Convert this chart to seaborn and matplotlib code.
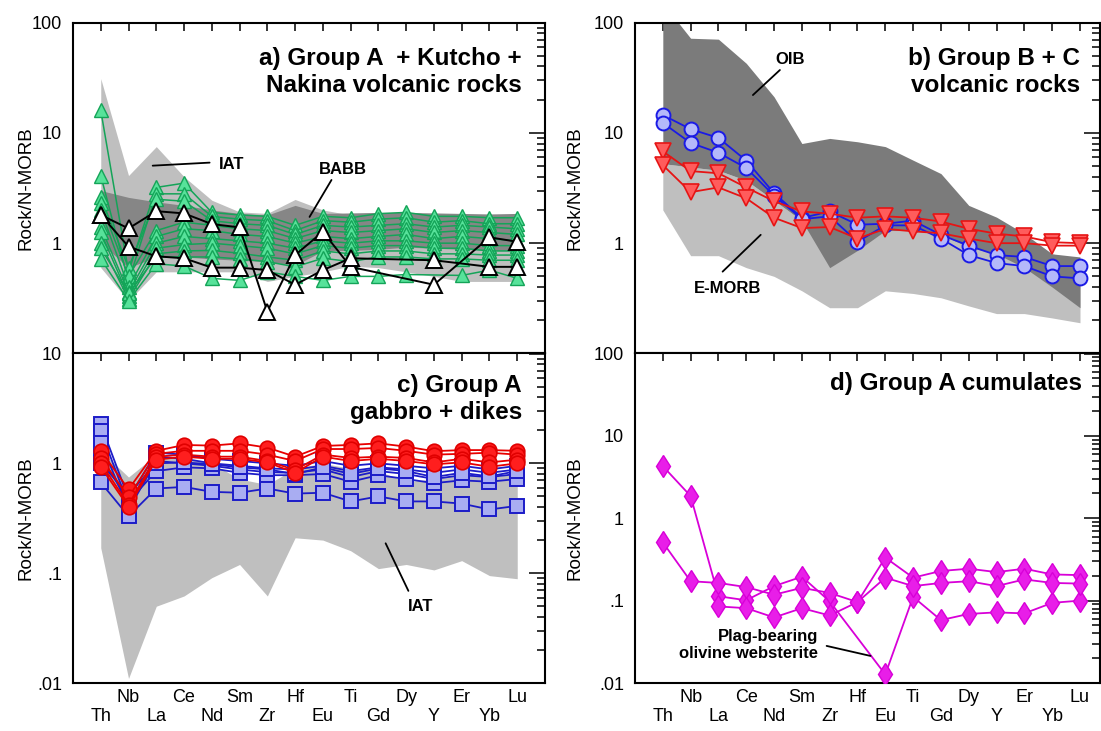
import numpy as np
import pandas as pd
import matplotlib
matplotlib.use("Agg")
import matplotlib.pyplot as plt
from matplotlib.ticker import FixedLocator, FuncFormatter, LogLocator, NullFormatter
import seaborn as sns

nan = np.nan

# ---------------------------------------------------------------- data
elements = ["Th", "Nb", "La", "Ce", "Nd", "Sm", "Zr", "Hf",
            "Eu", "Ti", "Gd", "Dy", "Y", "Er", "Yb", "Lu"]

# a) volcanic rocks (green triangles)
volc_green = [
    [16.0, 0.55, 3.2, 3.5, 1.9, 1.8, 1.75, 1.45, 1.75, 1.7, 1.85, 1.9, 1.75, 1.75, 1.7, 1.7],
    [4.1, 0.45, 2.8, 2.8, 1.75, 1.65, 1.6, 1.3, 1.6, 1.55, 1.65, 1.7, 1.55, 1.6, 1.5, 1.5],
    [2.6, 0.6, 2.5, 2.4, 1.6, 1.5, 1.45, 1.2, 1.45, 1.4, 1.45, 1.5, 1.4, 1.45, 1.4, 1.35],
    [2.3, 0.5, 1.3, 1.55, 1.45, 1.35, 1.3, 1.1, 1.3, 1.25, 1.3, 1.35, 1.25, 1.3, 1.25, 1.2],
    [2.0, 0.4, 1.15, 1.35, 1.3, 1.2, 1.15, 1.0, 1.15, 1.1, 1.15, 1.2, 1.1, 1.15, 1.1, 1.05],
    [1.4, 0.36, 1.0, 1.15, 1.1, 1.05, 1.0, 0.9, 1.05, 1.0, 1.05, 1.05, 1.0, 1.0, 0.95, 0.95],
    [1.25, 0.33, 0.9, 0.97, 1.0, 0.95, 0.9, 0.8, 0.95, 0.9, 0.95, 0.95, 0.9, 0.9, 0.85, 0.85],
    [1.0, 0.31, 0.8, 0.85, 0.86, 0.81, 0.75, 0.7, 0.85, 0.8, 0.85, 0.85, 0.8, 0.8, 0.78, 0.78],
    [0.9, 0.35, 0.75, 0.75, 0.75, 0.72, 0.68, 0.61, 0.73, 0.68, 0.75, 0.75, 0.72, 0.72, 0.7, 0.7],
    [0.72, 0.3, 0.65, 0.62, 0.48, 0.46, 0.55, 0.5, 0.46, 0.5, 0.5, 0.52, nan, 0.51, 0.57, 0.48],
]
# a) volcanic rocks (white triangles)
volc_white = [
    [1.8, 1.36, 1.95, 1.86, 1.49, 1.39, 0.24, 0.78, 1.27, 0.61, nan, nan, 0.42, nan, 1.13, 1.03],
    [1.8, 0.93, 0.76, 0.73, 0.60, 0.60, 0.57, 0.42, 0.57, 0.73, nan, nan, 0.70, nan, 0.61, 0.61],
]
iat_a_low = [0.6, 0.3, 0.55, 0.55, 0.55, 0.55, 0.45, 0.5, 0.55, 0.62, 0.6, 0.55, 0.5, 0.45, 0.45, 0.45]
iat_a_high = [31, 4.1, 7.5, 4.0, 2.45, 1.92, 1.86, 2.49, 2.0, 1.8, 1.8, 1.8, 1.8, 1.75, 1.75, 1.75]
babb_low = [1.0, 0.6, 0.75, 0.75, 0.72, 0.7, 0.68, 0.63, 0.85, 0.86, 0.88, 0.92, 0.9, 0.88, 0.86, 0.86]
babb_high = [3.0, 2.6, 2.37, 2.2, 2.0, 1.86, 1.8, 2.2, 1.86, 1.88, 1.9, 1.9, 1.88, 1.86, 1.84, 1.86]

# b) volcanic rocks
circle_suite = [
    [14.5, 10.8, 9.0, 5.6, 2.84, 1.69, 1.94, 1.47, 1.5, 1.6, 1.19, 0.95, 0.78, 0.75, 0.62, 0.62],
    [12.3, 8.1, 6.6, 4.8, 2.7, 1.65, 1.75, 1.03, 1.45, 1.45, 1.1, 0.78, 0.66, 0.62, 0.5, 0.48],
]
triangle_suite = [
    [6.8, 4.5, 4.3, 3.2, 2.4, 1.94, 1.85, 1.7, 1.75, 1.7, 1.57, 1.35, 1.22, 1.15, 1.02, 1.0],
    [5.1, 2.9, 3.2, 2.55, 1.7, 1.37, 1.4, 1.1, 1.35, 1.28, 1.23, 1.1, 1.0, 1.0, 0.95, 0.95],
]
oib_low = [5.26, 4.9, 4.57, 3.7, 2.44, 1.6, 0.6, 0.86, 1.3, 1.3, 1.2, 0.92, 0.8, 0.6, 0.4, 0.26]
oib_high = [150, 72, 70.6, 42.7, 21.2, 8.0, 8.9, 8.3, 7.5, 5.65, 4.27, 2.2, 1.72, 1.22, 0.8, 0.75]
emorb_low = [2.0, 0.77, 0.77, 0.6, 0.5, 0.37, 0.26, 0.26, 0.37, 0.35, 0.32, 0.27, 0.23, 0.23, 0.21, 0.19]
emorb_high = [5.26, 4.9, 4.57, 3.7, 2.44, 1.6, 1.4, 1.35, 1.3, 1.3, 1.2, 1.1, 1.0, 0.9, 0.8, 0.7]

# c) gabbro + dikes
gabbro = [
    [2.27, 0.48, 1.25, 1.2, 1.1, 1.05, 1.0, 0.95, 1.05, 0.95, 1.0, 0.95, 0.9, 0.95, 0.88, 0.95],
    [1.97, 0.42, 1.15, 1.1, 1.0, 0.95, 0.9, 0.88, 0.95, 0.85, 0.92, 0.88, 0.82, 0.88, 0.82, 0.88],
    [1.54, 0.38, 1.05, 1.0, 0.95, 0.88, 0.83, 0.82, 0.88, 0.75, 0.85, 0.8, 0.72, 0.78, 0.75, 0.8],
    [1.15, 0.45, 0.85, 0.92, 0.9, 0.82, 0.78, 0.78, 0.8, 0.68, 0.78, 0.72, 0.66, 0.7, 0.68, 0.72],
    [1.0, 0.52, 1.0, 1.02, 0.98, 0.92, 0.88, 0.8, 0.92, 0.8, 0.9, 0.85, 0.75, 0.82, 0.76, 0.85],
    [0.67, 0.33, 0.59, 0.61, 0.55, 0.54, 0.59, 0.53, 0.54, 0.45, 0.5, 0.45, 0.45, 0.43, 0.38, 0.41],
]
dikes = [
    [1.3, 0.58, 1.3, 1.47, 1.45, 1.52, 1.39, 1.15, 1.44, 1.47, 1.52, 1.42, 1.29, 1.32, 1.32, 1.3],
    [1.13, 0.49, 1.22, 1.3, 1.3, 1.3, 1.2, 1.05, 1.35, 1.35, 1.38, 1.3, 1.2, 1.22, 1.25, 1.2],
    [1.01, 0.42, 1.15, 1.2, 1.15, 1.15, 1.05, 0.87, 1.2, 1.12, 1.15, 1.12, 1.02, 1.1, 1.02, 1.08],
    [0.93, 0.40, 1.08, 1.15, 1.1, 1.1, 1.02, 0.82, 1.15, 1.05, 1.1, 1.05, 0.98, 1.02, 0.93, 1.0],
]
iat_c_low = [0.17, 0.011, 0.05, 0.062, 0.091, 0.12, 0.062, 0.21, 0.2, 0.16, 0.11, 0.12, 0.107, 0.13, 0.095, 0.089]
iat_c_high = [1.3, 0.75, 1.2, 1.1, 1.0, 0.72, 0.64, 0.9, 1.0, 0.9, 0.85, 0.68, 0.72, 0.8, 0.75, 0.8]

# d) cumulates
cumulates = [
    [4.29, 1.86, 0.113, 0.101, 0.15, 0.195, 0.098, nan, 0.0127, 0.111, 0.058, 0.069, 0.072, 0.07, 0.094, 0.1],
    [0.51, 0.172, 0.164, 0.146, 0.118, 0.143, 0.124, 0.096, 0.333, 0.19, 0.229, 0.244, 0.222, 0.244, 0.208, 0.204],
    [nan, nan, 0.085, 0.081, 0.0625, 0.081, 0.066, 0.096, 0.19, 0.15, 0.164, 0.172, 0.15, 0.181, 0.164, 0.161],
]

# ---------------------------------------------------------------- style
sns.set_style("white")
plt.rcParams["font.family"] = ["Liberation Sans", "DejaVu Sans"]
plt.rcParams["axes.linewidth"] = 1.5
for key in ("text.color", "axes.labelcolor", "xtick.color", "ytick.color", "axes.edgecolor"):
    plt.rcParams[key] = "black"

LIGHT = "#bfbfbf"
DARK = "#868686"
pos = np.arange(len(elements))

W, H = 1101, 731
fig = plt.figure(figsize=(W / 100, H / 100), dpi=100)


def add_axes(left, top, right, bottom):
    return fig.add_axes([left / W, 1 - bottom / H, (right - left) / W, (bottom - top) / H])


ax_a = add_axes(73, 22.5, 545, 353.5)
ax_c = add_axes(73, 353.5, 545, 683)
ax_b = add_axes(635, 22.5, 1099.5, 353.5)
ax_d = add_axes(635, 353.5, 1099.5, 683)


def long_form(series):
    rows = []
    for k, vals in enumerate(series):
        for i, v in enumerate(vals):
            if np.isfinite(v):
                rows.append((k, i, v))
    return pd.DataFrame(rows, columns=["sample", "pos", "value"])


def draw_suite(ax, series, line, marker, ms, face, edge, lw=1.1, mew=1.0, z=3):
    sns.lineplot(data=long_form(series), x="pos", y="value", units="sample",
                 estimator=None, sort=False, ax=ax, color=line, lw=lw,
                 marker=marker, markersize=ms, markerfacecolor=face,
                 markeredgecolor=edge, markeredgewidth=mew, legend=False,
                 zorder=z)


LABELS = {100: "100", 10: "10", 1: "1", 0.1: ".1", 0.01: ".01"}


def style_axis(ax, ylim, shown, xmax, bottom_labels):
    ax.set_yscale("log")
    ax.set_ylim(*ylim)
    ax.set_xlim(-1, xmax)
    majors = [v for v in LABELS if ylim[0] <= v <= ylim[1]]
    ax.yaxis.set_major_locator(FixedLocator(majors))
    ax.yaxis.set_major_formatter(FuncFormatter(
        lambda v, p: next((LABELS[k] for k in shown if abs(v - k) < 1e-9 * k + 1e-12), "")))
    ax.yaxis.set_minor_locator(LogLocator(base=10, subs=np.arange(2, 10), numticks=20))
    ax.yaxis.set_minor_formatter(NullFormatter())
    ax.set_xticks(pos)
    ax.set_xticklabels([("\n" + e) if i % 2 == 0 else e for i, e in enumerate(elements)])
    ax.tick_params(axis="both", which="both", direction="in", top=True, right=True,
                   width=1.1, color="black", labelcolor="black")
    ax.tick_params(axis="y", which="major", length=11.5, pad=8, labelsize=13)
    ax.tick_params(axis="y", which="minor", length=5.8)
    ax.tick_params(axis="x", which="major", length=6, pad=4, labelsize=13,
                   labelbottom=bottom_labels)
    ax.set_xlabel("")
    ax.set_ylabel("Rock/N-MORB", fontsize=13.5, color="black")
    for s in ax.spines.values():
        s.set_linewidth(1.5)
        s.set_color("black")


XMAX_R = (1099.5 - 663) / 27.8
TITLE = dict(ha="right", va="baseline", multialignment="right", fontsize=17.5,
             fontweight="bold", color="black")
NOTE = dict(fontsize=12, fontweight="bold", color="black")

# ---------------------------------------------------------------- a
ax = ax_a
ax.set_yscale("log")
ax.fill_between(pos, iat_a_low, iat_a_high, color=LIGHT, lw=0, zorder=1)
ax.fill_between(pos, babb_low, babb_high, color=DARK, lw=0, zorder=1.5)
draw_suite(ax, volc_green, "#14a458", "^", 9.5, "#57e29a", "#14a458", lw=1.1, z=3)
draw_suite(ax, volc_white, "black", "^", 11, "white", "black", lw=1.4, mew=1.4, z=4)
style_axis(ax, (0.1, 100), [100, 10, 1], 16, False)
ax.yaxis.set_label_coords(-0.082, 0.5)
ax.text(0.951, 0.79, "a) Group A  + Kutcho +\nNakina volcanic rocks",
        transform=ax.transAxes, **TITLE)
ax.text(4.71, 5.17, "IAT", ha="center", va="center", **NOTE)
ax.plot([1.87, 3.92], [5.04, 5.37], color="black", lw=1.3, zorder=5)
ax.text(8.71, 4.70, "BABB", ha="center", va="center", **NOTE)
ax.plot([8.31, 7.52], [3.74, 1.73], color="black", lw=1.3, zorder=5)

# ---------------------------------------------------------------- b
ax = ax_b
ax.set_yscale("log")
ax.fill_between(pos, emorb_low, emorb_high, color=LIGHT, lw=0, zorder=1)
ax.fill_between(pos, oib_low, oib_high, color="#7b7b7b", lw=0, zorder=1.5)
draw_suite(ax, circle_suite, "#1a1ae6", "o", 10, "#b4b8fa", "#1a1ae6", lw=1.3, mew=1.4, z=3)
draw_suite(ax, triangle_suite, "#e61414", "v", 11.5, "#ff5c5c", "#e61414", lw=1.3, mew=1.2, z=4)
style_axis(ax, (0.1, 100), [100, 10, 1], XMAX_R, False)
ax.yaxis.set_label_coords(-0.11, 0.5)
ax.text(0.958, 0.79, "b) Group B + C\nvolcanic rocks", transform=ax.transAxes, **TITLE)
ax.text(4.59, 45.8, "OIB", ha="center", va="center", **NOTE)
ax.plot([4.21, 3.24], [37.1, 22.0], color="black", lw=1.3, zorder=5)
ax.text(2.34, 0.39, "E-MORB", ha="center", va="center", **NOTE)
ax.plot([3.52, 2.15], [1.19, 0.552], color="black", lw=1.3, zorder=5)

# ---------------------------------------------------------------- c
ax = ax_c
ax.set_yscale("log")
ax.fill_between(pos, iat_c_low, iat_c_high, color=LIGHT, lw=0, zorder=1)
draw_suite(ax, gabbro, "#1c1cc8", "s", 10, "#a9adf2", "#1c1cc8", lw=1.3, mew=1.4, z=3)
draw_suite(ax, dikes, "#e80000", "o", 10.5, "#ff1e1e", "#e00000", lw=1.3, mew=1.2, z=4)
style_axis(ax, (0.01, 10), [10, 1, 0.1, 0.01], 16, True)
ax.yaxis.set_label_coords(-0.082, 0.5)
ax.text(0.951, 0.801, "c) Group A\ngabbro + dikes", transform=ax.transAxes, **TITLE)
ax.text(11.53, 0.0494, "IAT", ha="center", va="center", **NOTE)
ax.plot([10.26, 11.08], [0.187, 0.069], color="black", lw=1.3, zorder=5)

# ---------------------------------------------------------------- d
ax = ax_d
ax.set_yscale("log")
draw_suite(ax, cumulates, "#d800d8", "d", 11.5, "#e81ee8", "#d800d8", lw=1.3, mew=1.0, z=3)
style_axis(ax, (0.01, 100), [100, 10, 1, 0.1, 0.01], XMAX_R, True)
ax.yaxis.set_label_coords(-0.11, 0.5)
ax.text(0.962, 0.889, "d) Group A cumulates", transform=ax.transAxes, **TITLE)
ax.text(5.58, 0.029, "Plag-bearing\nolivine websterite", ha="right", va="center",
        multialignment="right", **NOTE)
ax.plot([5.89, 7.47], [0.0282, 0.0213], color="black", lw=1.3, zorder=5)

fig.savefig("out.png", dpi=100, facecolor="white")
